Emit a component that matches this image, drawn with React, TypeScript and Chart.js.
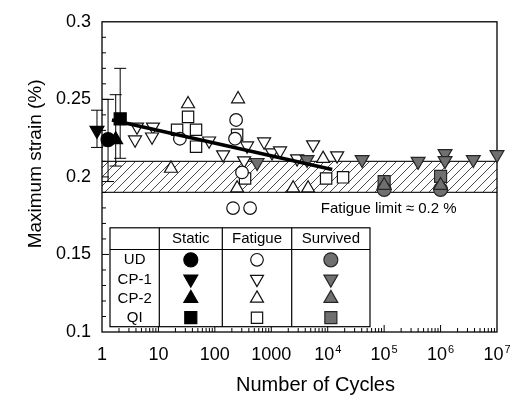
import React, { useEffect, useRef } from 'react';
import { Chart, registerables } from 'chart.js';
import { drawPoint } from 'chart.js/helpers';

Chart.register(...registerables);

const FONT = '"Liberation Sans", Arial, Helvetica, sans-serif';

// ---- Static tests (black markers with scatter bars)
const udStaticN = [1.28];
const udStaticStrain = [0.224];
const udStaticLow = [0.197];
const udStaticHigh = [0.25];
const cp1StaticN = [0.815];
const cp1StaticStrain = [0.23];
const cp1StaticLow = [0.219];
const cp1StaticHigh = [0.243];
const cp2StaticN = [1.75];
const cp2StaticStrain = [0.224];
const cp2StaticLow = [0.207];
const cp2StaticHigh = [0.253];
const qiStaticN = [2.1];
const qiStaticStrain = [0.2374];
const qiStaticLow = [0.212];
const qiStaticHigh = [0.27];

// ---- Fatigue failures (open markers)
const udFatigueN = [24, 238, 228, 303, 210, 421];
const udFatigueStrain = [0.2246, 0.2367, 0.2246, 0.2029, 0.1799, 0.1799];
const cp1FatigueN = [4.17, 8.0, 3.85, 7.7, 79, 140, 372, 330, 745, 1030, 1430, 2870, 5510, 14700];
const cp1FatigueStrain = [0.2323, 0.2323, 0.224, 0.2259, 0.2233, 0.2144, 0.2201, 0.2105, 0.2227, 0.2157, 0.2169, 0.2118, 0.2208, 0.2137];
const cp2FatigueN = [33.5, 16.7, 258, 248, 2440, 4490, 8280];
const cp2FatigueStrain = [0.247, 0.2054, 0.2502, 0.1927, 0.1927, 0.1927, 0.2118];
const qiFatigueN = [33.5, 21.4, 46.4, 46.4, 248, 343, 9370, 18700];
const qiFatigueStrain = [0.2387, 0.2304, 0.2304, 0.2195, 0.2272, 0.199, 0.199, 0.1997];

// ---- Survived (run-outs, grey markers)
const udSurvivedN = [1e5, 1e6];
const udSurvivedStrain = [0.192, 0.192];
const cp1SurvivedN = [560, 4310, 40700, 4e5, 1.2e6, 1.2e6, 3.8e6, 1e7];
const cp1SurvivedStrain = [0.2093, 0.2112, 0.2112, 0.21, 0.215, 0.2105, 0.2112, 0.2144];
const cp2SurvivedN = [1e5, 1e6];
const cp2SurvivedStrain = [0.1945, 0.1945];
const qiSurvivedN = [1e5, 1e6];
const qiSurvivedStrain = [0.197, 0.2003];

// ---- Trend line
const trendN = [1.5, 12000];
const trendStrain = [0.2367, 0.2048];

// ---- Fatigue limit band
const fatigueLimitLow = 0.19;
const fatigueLimitHigh = 0.21;
const fatigueLimitLabel = 'Fatigue limit \u2248 0.2 %';
const fatigueLimitLabelN = 1.2e5;
const fatigueLimitLabelStrain = 0.1795;

// ---- Axes
const xTickValues = [1, 10, 100, 1000, 1e4, 1e5, 1e6, 1e7];
const xTickBase = ['1', '10', '100', '1000', '10', '10', '10', '10'];
const xTickExp = ['', '', '', '', '4', '5', '6', '7'];
const yTickValues = [0.1, 0.15, 0.2, 0.25, 0.3];
const yTickLabels = ['0.1', '0.15', '0.2', '0.25', '0.3'];
const xTitle = 'Number of Cycles';
const yTitle = 'Maximum strain (%)';

// ---- Legend table
const legendRows = ['UD', 'CP-1', 'CP-2', 'QI'];
const legendCols = ['Static', 'Fatigue', 'Survived'];

const pts = (xs: number[], ys: number[]) => xs.map((x, i) => ({ x, y: ys[i] }));

const BLACK = '#000000';
const WHITE = '#ffffff';
const GREY = '#707070';
const GREY_EDGE = '#262626';

const rowStyle: any[] = [
  { pointStyle: 'circle', rotation: 0, r: [7, 6.3, 7] },
  { pointStyle: 'triangle', rotation: 180, r: [8, 7.5, 8] },
  { pointStyle: 'triangle', rotation: 0, r: [8, 7.5, 8] },
  { pointStyle: 'rect', rotation: 0, r: [8.5, 8, 8.5] },
];
const colColors = [
  { fill: BLACK, stroke: BLACK },
  { fill: WHITE, stroke: '#111' },
  { fill: GREY, stroke: GREY_EDGE },
];

function ds(label: string, xs: number[], ys: number[], row: number, col: number, order: number, rScale = 1) {
  const st = rowStyle[row];
  return {
    type: 'scatter' as const,
    label,
    data: pts(xs, ys),
    showLine: false,
    clip: false as any,
    order,
    pointStyle: st.pointStyle,
    pointRotation: st.rotation,
    pointRadius: st.r[col] * rScale,
    pointBackgroundColor: colColors[col].fill,
    pointBorderColor: colColors[col].stroke,
    pointBorderWidth: 1.2,
  };
}

const staticBars = [
  { n: cp1StaticN, lo: cp1StaticLow, hi: cp1StaticHigh },
  { n: udStaticN, lo: udStaticLow, hi: udStaticHigh },
  { n: cp2StaticN, lo: cp2StaticLow, hi: cp2StaticHigh },
  { n: qiStaticN, lo: qiStaticLow, hi: qiStaticHigh },
];

function makeHatch(ctx: CanvasRenderingContext2D) {
  const s = 9;
  const c = document.createElement('canvas');
  c.width = s;
  c.height = s;
  const g = c.getContext('2d')!;
  g.fillStyle = '#fff';
  g.fillRect(0, 0, s, s);
  g.strokeStyle = '#4a4a4a';
  g.lineWidth = 1;
  g.beginPath();
  g.moveTo(-1, s + 1);
  g.lineTo(s + 1, -1);
  g.moveTo(-2, 2);
  g.lineTo(2, -2);
  g.moveTo(s - 2, s + 2);
  g.lineTo(s + 2, s - 2);
  g.stroke();
  return ctx.createPattern(c, 'repeat')!;
}

const decor = {
  id: 'decor',
  beforeDatasetsDraw(chart: any) {
    const { ctx, chartArea: ca, scales } = chart;
    const x = scales.x;
    const y = scales.y;
    ctx.save();
    // hatched fatigue-limit band
    const yT = y.getPixelForValue(fatigueLimitHigh);
    const yB = y.getPixelForValue(fatigueLimitLow);
    ctx.fillStyle = makeHatch(ctx);
    ctx.fillRect(ca.left, yT, ca.right - ca.left, yB - yT);
    ctx.strokeStyle = '#222';
    ctx.lineWidth = 1.2;
    ctx.beginPath();
    ctx.moveTo(ca.left, yT);
    ctx.lineTo(ca.right, yT);
    ctx.moveTo(ca.left, yB);
    ctx.lineTo(ca.right, yB);
    ctx.stroke();

    // axis box
    ctx.strokeStyle = '#000';
    ctx.lineWidth = 1.3;
    ctx.strokeRect(ca.left, ca.top, ca.right - ca.left, ca.bottom - ca.top);

    // inward tick marks
    ctx.lineWidth = 1;
    ctx.beginPath();
    for (let k = 11; k < 30; k++) {
      const v = k / 100;
      const py = y.getPixelForValue(v);
      const len = k % 5 === 0 ? 7 : 4;
      ctx.moveTo(ca.left, py);
      ctx.lineTo(ca.left + len, py);
    }
    for (let d = 0; d < 7; d++) {
      for (let m = 1; m <= 9; m++) {
        if (d === 0 && m === 1) continue;
        const px = x.getPixelForValue(m * Math.pow(10, d));
        const len = m === 1 ? 7 : 4;
        ctx.moveTo(px, ca.bottom);
        ctx.lineTo(px, ca.bottom - len);
      }
    }
    ctx.stroke();

    // scatter bars of static tests
    ctx.lineWidth = 1;
    ctx.beginPath();
    staticBars.forEach((b) => {
      b.n.forEach((n, i) => {
        const px = x.getPixelForValue(n);
        const p1 = y.getPixelForValue(b.lo[i]);
        const p2 = y.getPixelForValue(b.hi[i]);
        ctx.moveTo(px, p1);
        ctx.lineTo(px, p2);
        ctx.moveTo(px - 6, p1);
        ctx.lineTo(px + 6, p1);
        ctx.moveTo(px - 6, p2);
        ctx.lineTo(px + 6, p2);
      });
    });
    ctx.stroke();
    ctx.restore();
  },
  afterDraw(chart: any) {
    const { ctx, chartArea: ca, scales } = chart;
    const x = scales.x;
    const y = scales.y;
    ctx.save();
    ctx.fillStyle = '#000';
    ctx.textBaseline = 'middle';

    // fatigue limit label
    ctx.font = `15px ${FONT}`;
    ctx.textAlign = 'center';
    ctx.fillText(fatigueLimitLabel, x.getPixelForValue(fatigueLimitLabelN), y.getPixelForValue(fatigueLimitLabelStrain));

    // x tick labels with superscripts
    xTickValues.forEach((v, i) => {
      const px = x.getPixelForValue(v);
      ctx.font = `18px ${FONT}`;
      const wb = ctx.measureText(xTickBase[i]).width;
      ctx.font = `11px ${FONT}`;
      const we = xTickExp[i] ? ctx.measureText(xTickExp[i]).width + 1 : 0;
      const start = px - (wb + we) / 2;
      ctx.textAlign = 'left';
      ctx.font = `18px ${FONT}`;
      ctx.fillText(xTickBase[i], start, ca.bottom + 23.5);
      if (xTickExp[i]) {
        ctx.font = `11px ${FONT}`;
        ctx.fillText(xTickExp[i], start + wb + 1, ca.bottom + 18);
      }
    });

    // axis titles
    ctx.textAlign = 'center';
    ctx.font = `20px ${FONT}`;
    ctx.fillText(xTitle, (ca.left + ca.right) / 2 + 16, ca.bottom + 53);
    ctx.save();
    ctx.translate(ca.left - 66, (ca.top + ca.bottom) / 2 - 13);
    ctx.rotate(-Math.PI / 2);
    ctx.font = `19px ${FONT}`;
    ctx.fillText(yTitle, 0, 0);
    ctx.restore();

    // legend table
    const L = ca.left + 8;
    const R = ca.left + 268;
    const T = ca.top + 206;
    const H = T + 21.7;
    const B = ca.bottom - 5.3;
    const cols = [L, L + 49.3, L + 112.3, L + 181.7, R];
    ctx.fillStyle = '#fff';
    ctx.fillRect(L, T, R - L, B - T);
    ctx.strokeStyle = '#000';
    ctx.lineWidth = 1.2;
    ctx.strokeRect(L, T, R - L, B - T);
    ctx.beginPath();
    ctx.moveTo(L, H);
    ctx.lineTo(R, H);
    for (let c = 1; c <= 3; c++) {
      ctx.moveTo(cols[c], T);
      ctx.lineTo(cols[c], B);
    }
    ctx.stroke();
    ctx.fillStyle = '#000';
    ctx.font = `15px ${FONT}`;
    ctx.textAlign = 'center';
    legendCols.forEach((t, c) => {
      ctx.fillText(t, (cols[c + 1] + cols[c + 2]) / 2, T + 11);
    });
    legendRows.forEach((t, r) => {
      const cy = H + 10.3 + 19.3 * r;
      ctx.fillStyle = '#000';
      ctx.fillText(t, (cols[0] + cols[1]) / 2, cy + 0.5);
      for (let c = 0; c < 3; c++) {
        const st = rowStyle[r];
        ctx.fillStyle = colColors[c].fill;
        ctx.strokeStyle = colColors[c].stroke;
        ctx.lineWidth = 1.2;
        drawPoint(ctx, { pointStyle: st.pointStyle, rotation: st.rotation, radius: st.r[c], borderWidth: 1.2 } as any, (cols[c + 1] + cols[c + 2]) / 2, cy);
      }
    });
    ctx.restore();
  },
};

export default function App() {
  const ref = useRef<HTMLCanvasElement>(null);
  useEffect(() => {
    const datasets: any[] = [
      {
        type: 'line',
        label: 'Trend',
        data: pts(trendN, trendStrain),
        borderColor: '#000',
        borderWidth: 3.5,
        pointRadius: 0,
        fill: false,
        clip: false,
        order: 0,
      },
      ds('UD static', udStaticN, udStaticStrain, 0, 0, 1),
      ds('CP-1 static', cp1StaticN, cp1StaticStrain, 1, 0, 1),
      ds('CP-2 static', cp2StaticN, cp2StaticStrain, 2, 0, 1),
      ds('QI static', qiStaticN, qiStaticStrain, 3, 0, 1),
      ds('UD fatigue', udFatigueN, udFatigueStrain, 0, 1, 3),
      ds('CP-1 fatigue', cp1FatigueN, cp1FatigueStrain, 1, 1, 3),
      ds('CP-2 fatigue', cp2FatigueN, cp2FatigueStrain, 2, 1, 3),
      ds('QI fatigue', qiFatigueN, qiFatigueStrain, 3, 1, 3),
      ds('CP-2 survived', cp2SurvivedN, cp2SurvivedStrain, 2, 2, 2),
      ds('UD survived', udSurvivedN, udSurvivedStrain, 0, 2, 2.1),
      ds('CP-1 survived', cp1SurvivedN, cp1SurvivedStrain, 1, 2, 2),
      ds('QI survived', qiSurvivedN, qiSurvivedStrain, 3, 2, 2.2),
    ];
    const chart = new Chart(ref.current!, {
      type: 'scatter',
      data: { datasets },
      options: {
        responsive: true,
        maintainAspectRatio: false,
        animation: false,
        layout: { padding: { top: 19, right: 19, left: 0, bottom: 0 } },
        plugins: {
          legend: { display: false },
          tooltip: { enabled: false },
          title: { display: false },
        },
        scales: {
          x: {
            type: 'logarithmic',
            min: 1,
            max: 1e7,
            grid: { display: false, drawTicks: false },
            border: { display: false },
            ticks: { display: false },
            afterFit: (s: any) => {
              s.height = 64;
            },
          },
          y: {
            type: 'linear',
            min: 0.1,
            max: 0.3,
            grid: { display: false, drawTicks: false },
            border: { display: false },
            ticks: {
              stepSize: 0.05,
              padding: 11,
              color: '#000',
              font: { family: FONT, size: 18 },
              callback: (v: any) => {
                const i = yTickValues.findIndex((t) => Math.abs(t - Number(v)) < 1e-9);
                return i >= 0 ? yTickLabels[i] : '';
              },
            },
            afterFit: (s: any) => {
              s.width = 102;
            },
          },
        },
      } as any,
      plugins: [decor],
    });
    return () => chart.destroy();
  }, []);
  return (
    <div style={{ position: 'fixed', left: 0, top: 0, width: 516, height: 396, background: '#fff' }}>
      <canvas ref={ref} />
    </div>
  );
}
